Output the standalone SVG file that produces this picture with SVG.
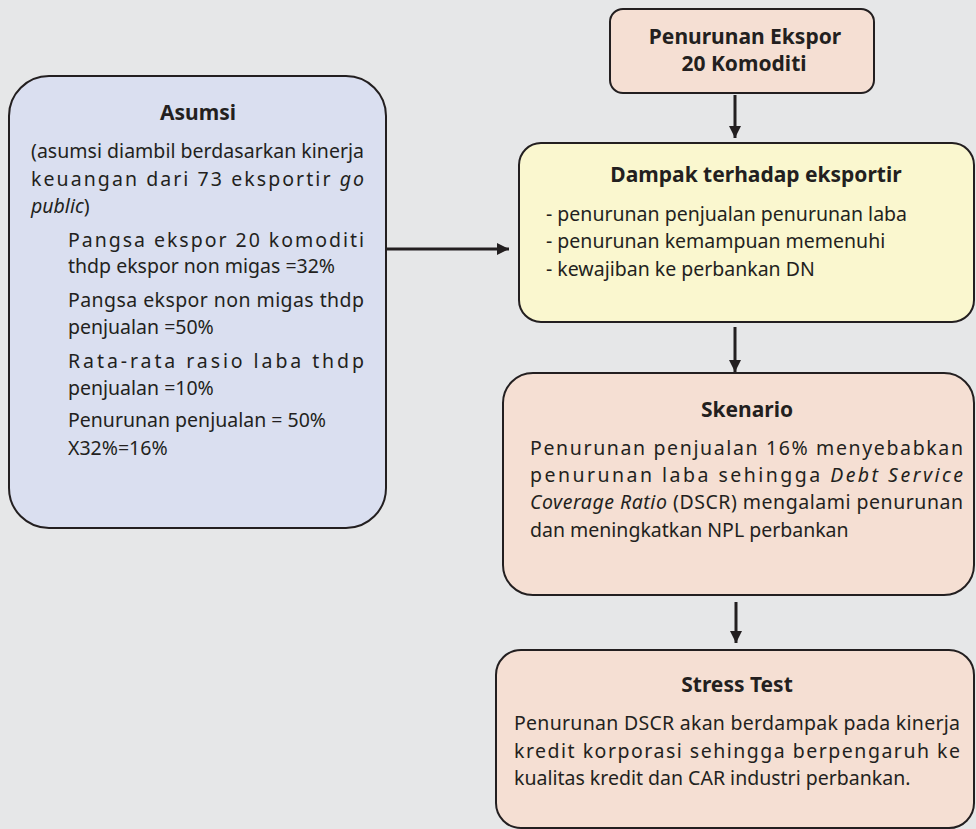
<svg xmlns="http://www.w3.org/2000/svg" width="976" height="829" viewBox="0 0 976 829">
<defs>
<marker id="ah" viewBox="0 0 12 12" markerWidth="12" markerHeight="12" refX="12" refY="6" orient="auto" markerUnits="userSpaceOnUse">
<path d="M0,0 L12,6 L0,12 z" fill="#231f20"/>
</marker>
<style>
.box{stroke:#231f20;stroke-width:2}
.peach{fill:#f5dfd3}
.yellow{fill:#faf7cf}
.blue{fill:#dadff0}
text{font-family:"Noto Sans","Open Sans","Liberation Sans",sans-serif;fill:#231f20}
.t{font-size:21px;font-weight:bold;text-anchor:middle}
.b{font-size:19.5px}
.i{font-style:italic}
.conn{stroke:#231f20;stroke-width:3;fill:none;marker-end:url(#ah)}
</style>
</defs>
<rect width="976" height="829" fill="#e6e7e8"/>
<g id="asumsi">
<rect class="box blue" x="9" y="76" width="377" height="452" rx="40"/>
<text class="t" x="198" y="120">Asumsi</text>
<text class="b" x="31" y="158" textLength="333" lengthAdjust="spacing">(asumsi diambil berdasarkan kinerja</text>
<text class="b" x="31" y="186" textLength="333" lengthAdjust="spacing">keuangan dari 73 eksportir <tspan class="i">go</tspan></text>
<text class="b" x="31" y="213"><tspan class="i">public</tspan>)</text>
<text class="b" x="68" y="247" textLength="296" lengthAdjust="spacing">Pangsa ekspor 20 komoditi</text>
<text class="b" x="68" y="273">thdp ekspor non migas =32%</text>
<text class="b" x="68" y="307" textLength="296" lengthAdjust="spacing">Pangsa ekspor non migas thdp</text>
<text class="b" x="68" y="334">penjualan =50%</text>
<text class="b" x="68" y="368" textLength="296" lengthAdjust="spacing">Rata-rata rasio laba thdp</text>
<text class="b" x="68" y="395">penjualan =10%</text>
<text class="b" x="68" y="427">Penurunan penjualan = 50%</text>
<text class="b" x="68" y="455">X32%=16%</text>
</g>
<g id="penurunan-ekspor">
<rect class="box peach" x="610" y="9" width="264" height="84" rx="13"/>
<text class="t" x="745" y="44">Penurunan Ekspor</text>
<text class="t" x="744" y="71">20 Komoditi</text>
</g>
<g id="dampak">
<rect class="box yellow" x="519" y="143" width="455" height="179" rx="22"/>
<text class="t" x="756" y="182">Dampak terhadap eksportir</text>
<text class="b" x="546" y="221">- penurunan penjualan penurunan laba</text>
<text class="b" x="546" y="248">- penurunan kemampuan memenuhi</text>
<text class="b" x="546" y="276">- kewajiban ke perbankan DN</text>
</g>
<g id="skenario">
<rect class="box peach" x="503" y="373" width="471" height="222" rx="30"/>
<text class="t" x="747" y="417">Skenario</text>
<text class="b" x="530" y="455" textLength="433" lengthAdjust="spacing">Penurunan penjualan 16% menyebabkan</text>
<text class="b" x="530" y="482" textLength="433" lengthAdjust="spacing">penurunan laba sehingga <tspan class="i">Debt Service</tspan></text>
<text class="b" x="530" y="509" textLength="433" lengthAdjust="spacing"><tspan class="i">Coverage Ratio</tspan> (DSCR) mengalami penurunan</text>
<text class="b" x="530" y="537">dan meningkatkan NPL perbankan</text>
</g>
<g id="stress-test">
<rect class="box peach" x="496" y="650" width="478" height="178" rx="25"/>
<text class="t" x="737" y="692">Stress Test</text>
<text class="b" x="514" y="730" textLength="446" lengthAdjust="spacing">Penurunan DSCR akan berdampak pada kinerja</text>
<text class="b" x="514" y="758" textLength="446" lengthAdjust="spacing">kredit korporasi sehingga berpengaruh ke</text>
<text class="b" x="514" y="785">kualitas kredit dan CAR industri perbankan.</text>
</g>
<g id="connectors">
<line class="conn" x1="735" y1="95" x2="735" y2="138"/>
<line class="conn" x1="735" y1="327" x2="735" y2="372"/>
<line class="conn" x1="736" y1="602" x2="736" y2="643"/>
<line class="conn" x1="387" y1="249" x2="509" y2="249"/>
</g>
</svg>
